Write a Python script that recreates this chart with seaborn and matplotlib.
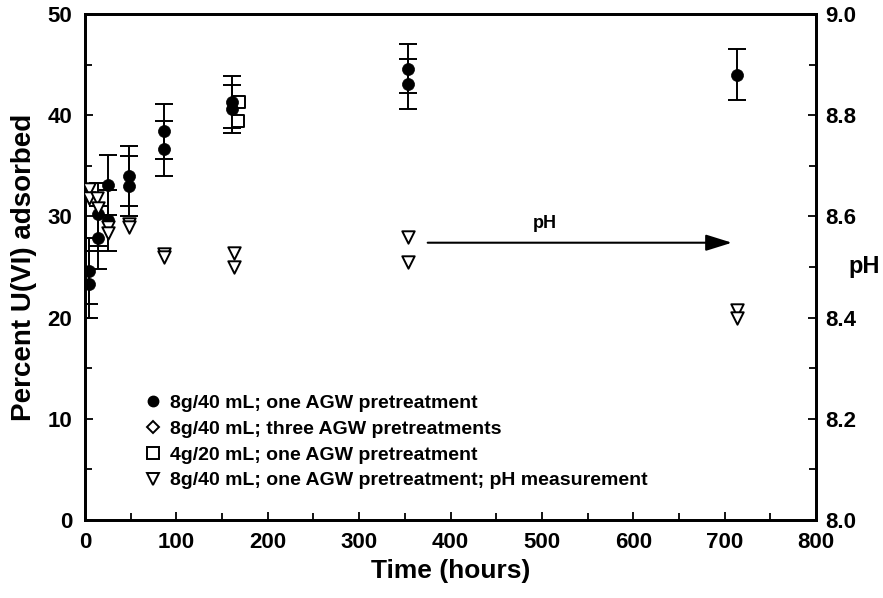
import numpy as np
import pandas as pd
import matplotlib
matplotlib.use("Agg")
import matplotlib.pyplot as plt
import seaborn as sns

# ---------------- data ----------------
time_circle = [4, 4, 14, 14, 25, 25, 48, 48, 86, 86, 161, 161, 354, 354, 713]
pct_circle = [24.6, 23.3, 30.2, 27.9, 33.1, 29.6, 34.0, 33.0, 38.4, 36.7, 41.3, 40.6, 44.6, 43.1, 44.0]
err_circle = [3.3, 3.3, 3.1, 3.1, 3.0, 3.0, 3.0, 3.0, 2.7, 2.7, 2.6, 2.4, 2.4, 2.5, 2.5]

time_diamond = []
pct_diamond = []

time_square = [168, 167]
pct_square = [41.3, 39.4]

time_ph = [4, 4, 13, 14, 25, 25, 48, 48, 86, 86, 163, 163, 354, 354, 713, 713]
ph_vals = [8.655, 8.636, 8.636, 8.616, 8.58, 8.567, 8.585, 8.58, 8.525, 8.52, 8.528, 8.50, 8.56, 8.51, 8.415, 8.40]

x_ticks = [0, 100, 200, 300, 400, 500, 600, 700, 800]
y_ticks = [0, 10, 20, 30, 40, 50]
ph_ticks = [8.0, 8.2, 8.4, 8.6, 8.8, 9.0]

labels = ["8g/40 mL; one AGW pretreatment",
          "8g/40 mL; three AGW pretreatments",
          "4g/20 mL; one AGW pretreatment",
          "8g/40 mL; one AGW pretreatment; pH measurement"]

# ---------------- style ----------------
sns.set_style("ticks")
plt.rcParams['font.family'] = ['Liberation Sans', 'DejaVu Sans']
plt.rcParams['font.weight'] = 'bold'
for k in ["text.color", "axes.labelcolor", "xtick.color", "ytick.color", "axes.edgecolor"]:
    plt.rcParams[k] = "black"

fig = plt.figure(figsize=(8.83, 5.98), dpi=100)
ax = fig.add_axes([85/883, 1 - 520/598, (816 - 85)/883, (520 - 14)/598])
ax2 = ax.twinx()

df_c = pd.DataFrame({"t": time_circle, "p": pct_circle, "e": err_circle})
df_s = pd.DataFrame({"t": time_square, "p": pct_square})
df_ph = pd.DataFrame({"t": time_ph, "ph": ph_vals})

ax.errorbar(df_c["t"], df_c["p"], yerr=df_c["e"], fmt="none", ecolor="black",
            elinewidth=1.4, capsize=6.5, capthick=1.4, zorder=2)
sns.scatterplot(data=df_c, x="t", y="p", ax=ax, marker="o", s=75, color="black",
                edgecolor="black", linewidth=0.5, zorder=4, legend=False)
ax.scatter(time_diamond, pct_diamond, marker="D", s=30, facecolor="white",
           edgecolor="black", linewidth=1.2)
sns.scatterplot(data=df_s, x="t", y="p", ax=ax, marker="s", s=80, facecolor="white",
                edgecolor="black", linewidth=1.4, zorder=3, legend=False)
sns.scatterplot(data=df_ph, x="t", y="ph", ax=ax2, marker="v", s=80, facecolor="white",
                edgecolor="black", linewidth=1.4, zorder=3, legend=False)

# limits / ticks
ax.set_xlim(0, 800)
ax.set_ylim(0, 50)
ax2.set_ylim(8.0, 9.0)
ax.set_xticks(x_ticks)
ax.set_yticks(y_ticks)
ax2.set_yticks(ph_ticks)
ax2.set_yticklabels([f"{v:.1f}" for v in ph_ticks])
ax.set_xticks(np.arange(50, 800, 100), minor=True)
ax.set_yticks(np.arange(5, 50, 10), minor=True)
ax2.set_yticks(np.arange(8.1, 9.0, 0.2), minor=True)

for a in (ax, ax2):
    for s in a.spines.values():
        s.set_linewidth(2.0)
        s.set_visible(True)
        s.set_color("black")
    a.tick_params(which="both", direction="in", width=1.3, labelsize=16)
    a.tick_params(which="major", length=6)
    a.tick_params(which="minor", length=5)
ax.tick_params(axis="y", which="both", right=False, pad=9)
ax.tick_params(axis="x", which="both", top=False, pad=9)
ax2.tick_params(axis="y", which="both", left=False, pad=7)
for lab in ax.get_xticklabels() + ax.get_yticklabels() + ax2.get_yticklabels():
    lab.set_fontweight("bold")

ax.set_xlabel("Time (hours)", fontsize=19, fontweight="bold", labelpad=4)
ax.set_ylabel("Percent U(VI) adsorbed", fontsize=20, fontweight="bold", labelpad=8)
ax2.set_ylabel("pH", fontsize=17, fontweight="bold", rotation=0, labelpad=4, va="center", ha="left")
ax2.yaxis.set_label_coords(1.044, 0.5)

# arrow annotation
ax2.annotate("", xy=(711, 8.548), xytext=(372, 8.548),
             arrowprops=dict(arrowstyle="-|>,head_length=1.6,head_width=0.5",
                             color="black", lw=1.5))
ax2.text(503, 8.585, "pH", fontsize=13, fontweight="bold", ha="center", va="center")

# legend
h_c = plt.Line2D([], [], marker="o", ls="none", color="black", markersize=7.5)
h_d = plt.Line2D([], [], marker="D", ls="none", markerfacecolor="white", markeredgecolor="black", markersize=6.5, markeredgewidth=1.4)
h_s = plt.Line2D([], [], marker="s", ls="none", markerfacecolor="white", markeredgecolor="black", markersize=9, markeredgewidth=1.4)
h_t = plt.Line2D([], [], marker="v", ls="none", markerfacecolor="white", markeredgecolor="black", markersize=9, markeredgewidth=1.4)
leg = ax2.legend([h_c, h_d, h_s, h_t], labels, loc="upper left",
                 bbox_to_anchor=(0.06, 0.275), frameon=False,
                 prop={"weight": "bold", "size": 14}, handletextpad=0.3,
                 labelspacing=0.42, handlelength=1.1, borderpad=0.2)

fig.savefig("out.png", dpi=100)
